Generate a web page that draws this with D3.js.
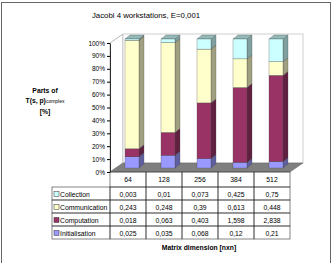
<!DOCTYPE html>
<html>
<head>
<meta charset="utf-8">
<script src="https://cdn.jsdelivr.net/npm/d3@7"></script>
<style>
  body { margin: 0; background: #fff; }
  svg text { font-family: Arial, "Liberation Sans", sans-serif; fill: #000; }
</style>
</head>
<body>
<div id="chart"></div>
<script>
const sizes = ['64', '128', '256', '384', '512'];
const collection = [0.003, 0.01, 0.073, 0.425, 0.75];
const communication = [0.243, 0.248, 0.39, 0.613, 0.448];
const computation = [0.018, 0.063, 0.403, 1.598, 2.838];
const initialisation = [0.025, 0.035, 0.068, 0.12, 0.21];
const yTicks = [0, 0.1, 0.2, 0.3, 0.4, 0.5, 0.6, 0.7, 0.8, 0.9, 1];

const series = [
  { key: 'Collection', values: collection, color: '#ccffff' },
  { key: 'Communication', values: communication, color: '#ffffcc' },
  { key: 'Computation', values: computation, color: '#993366' },
  { key: 'Initialisation', values: initialisation, color: '#9999ff' }
];

const width = 334, height = 263;

const svg = d3.select('#chart')
  .append('svg')
  .attr('width', width)
  .attr('height', height);

// outer chart border
svg.append('rect')
  .attr('x', 1.5).attr('y', 2.5)
  .attr('width', 329).attr('height', 264)
  .attr('fill', 'none').attr('stroke', '#666');

// title
svg.append('text')
  .attr('x', 146).attr('y', 18)
  .attr('text-anchor', 'middle')
  .style('font-size', '7.8px')
  .text('Jacobi 4 workstations, E=0,001');

// scales
const x = d3.scaleBand().domain(sizes).range([110, 290]);
const y = d3.scaleLinear().domain([0, 1]).range([172, 43]);

const depth = { dx: 13, dy: -9 };
const bar = { w: 14, off: 4, dx: 5, dy: -4 };

// walls
const wall = svg.append('g');
wall.append('path')
  .attr('d', `M110,${y(1)}L${110 + depth.dx},${y(1) + depth.dy}L${110 + depth.dx},${y(0) + depth.dy}L110,${y(0)}Z`)
  .attr('fill', '#fff').attr('stroke', '#a6a6a6').attr('stroke-width', 0.8);
wall.append('rect')
  .attr('x', 110 + depth.dx).attr('y', y(1) + depth.dy)
  .attr('width', 180).attr('height', y(0) - y(1))
  .attr('fill', '#fff').attr('stroke', '#c4c4c4').attr('stroke-width', 0.8);
// floor
wall.append('path')
  .attr('d', `M110,${y(0)}L290,${y(0)}L${290 + depth.dx},${y(0) + depth.dy}L${110 + depth.dx},${y(0) + depth.dy}Z`)
  .attr('fill', '#7f7f7f').attr('stroke', '#666').attr('stroke-width', 0.5);

// stacked data (bottom to top)
const rows = sizes.map(function (s, i) {
  const r = { size: s };
  series.forEach(function (d) { r[d.key] = d.values[i]; });
  return r;
});
const stack = d3.stack()
  .keys(['Initialisation', 'Computation', 'Communication', 'Collection'])
  .offset(d3.stackOffsetExpand);
const stacked = stack(rows);
const colorOf = {};
series.forEach(function (d) { colorOf[d.key] = d.color; });

const bars = svg.append('g');
sizes.forEach(function (s, i) {
  const x0 = x(s) + x.bandwidth() / 2 + bar.off - bar.w / 2;
  const x1 = x0 + bar.w;
  stacked.forEach(function (layer) {
    const seg = layer[i];
    const yb = y(seg[0]) - 4, yt = y(seg[1]) - 4;
    const c = d3.color(colorOf[layer.key]);
    // side
    bars.append('path')
      .attr('d', `M${x1},${yb}L${x1 + bar.dx},${yb + bar.dy}L${x1 + bar.dx},${yt + bar.dy}L${x1},${yt}Z`)
      .attr('fill', c.darker(1.3)).attr('stroke', '#444').attr('stroke-width', 0.3);
    // top
    bars.append('path')
      .attr('d', `M${x0},${yt}L${x1},${yt}L${x1 + bar.dx},${yt + bar.dy}L${x0 + bar.dx},${yt + bar.dy}Z`)
      .attr('fill', c.darker(0.9)).attr('stroke', '#444').attr('stroke-width', 0.3);
    // front
    bars.append('rect')
      .attr('x', x0).attr('y', yt)
      .attr('width', bar.w).attr('height', yb - yt)
      .attr('fill', c).attr('stroke', '#444').attr('stroke-width', 0.3);
  });
});

// y axis
const yAxis = svg.append('g')
  .attr('transform', 'translate(110,0)')
  .call(d3.axisLeft(y).tickValues(yTicks).tickFormat(d3.format('.0%')).tickSize(3).tickSizeOuter(0));
yAxis.selectAll('text').style('font-size', '6.5px').attr('x', -5);
yAxis.select('.domain').attr('stroke', '#000').attr('stroke-width', 0.8);

// y axis title
const yt = svg.append('g').style('font-size', '6.8px').style('font-weight', 'bold').attr('text-anchor', 'middle');
yt.append('text').attr('x', 45).attr('y', 93).text('Parts of');
const t2 = yt.append('text').attr('x', 45).attr('y', 103);
t2.append('tspan').text('T(s, p)');
t2.append('tspan').style('font-size', '5px').style('font-weight', 'normal').text('complex');
yt.append('text').attr('x', 45).attr('y', 114).text('[%]');

// data table
const table = svg.append('g');
const rowH = 13, headTop = 172, headBottom = 187;
const lineColor = '#333';
// header row
sizes.forEach(function (s) {
  table.append('rect')
    .attr('x', x(s)).attr('y', headTop)
    .attr('width', x.bandwidth()).attr('height', headBottom - headTop)
    .attr('fill', 'none').attr('stroke', lineColor).attr('stroke-width', 0.6);
  table.append('text')
    .attr('x', x(s) + x.bandwidth() / 2).attr('y', headTop + 10)
    .attr('text-anchor', 'middle').style('font-size', '6.8px')
    .text(s);
});
series.forEach(function (d, r) {
  const top = headBottom + r * rowH;
  table.append('rect')
    .attr('x', 52).attr('y', top)
    .attr('width', 58).attr('height', rowH)
    .attr('fill', 'none').attr('stroke', lineColor).attr('stroke-width', 0.6);
  table.append('rect')
    .attr('x', 54).attr('y', top + 4.5)
    .attr('width', 5).attr('height', 5)
    .attr('fill', d.color).attr('stroke', '#333').attr('stroke-width', 0.5);
  table.append('text')
    .attr('x', 60).attr('y', top + 9.5)
    .style('font-size', '6.8px')
    .text(d.key);
  sizes.forEach(function (s, i) {
    table.append('rect')
      .attr('x', x(s)).attr('y', top)
      .attr('width', x.bandwidth()).attr('height', rowH)
      .attr('fill', 'none').attr('stroke', lineColor).attr('stroke-width', 0.6);
    table.append('text')
      .attr('x', x(s) + x.bandwidth() / 2).attr('y', top + 9.5)
      .attr('text-anchor', 'middle').style('font-size', '6.8px')
      .text(String(d.values[i]).replace('.', ','));
  });
});

// x axis title
svg.append('text')
  .attr('x', 199).attr('y', 250)
  .attr('text-anchor', 'middle')
  .style('font-size', '6.8px').style('font-weight', 'bold')
  .text('Matrix dimension [nxn]');
</script>
</body>
</html>
